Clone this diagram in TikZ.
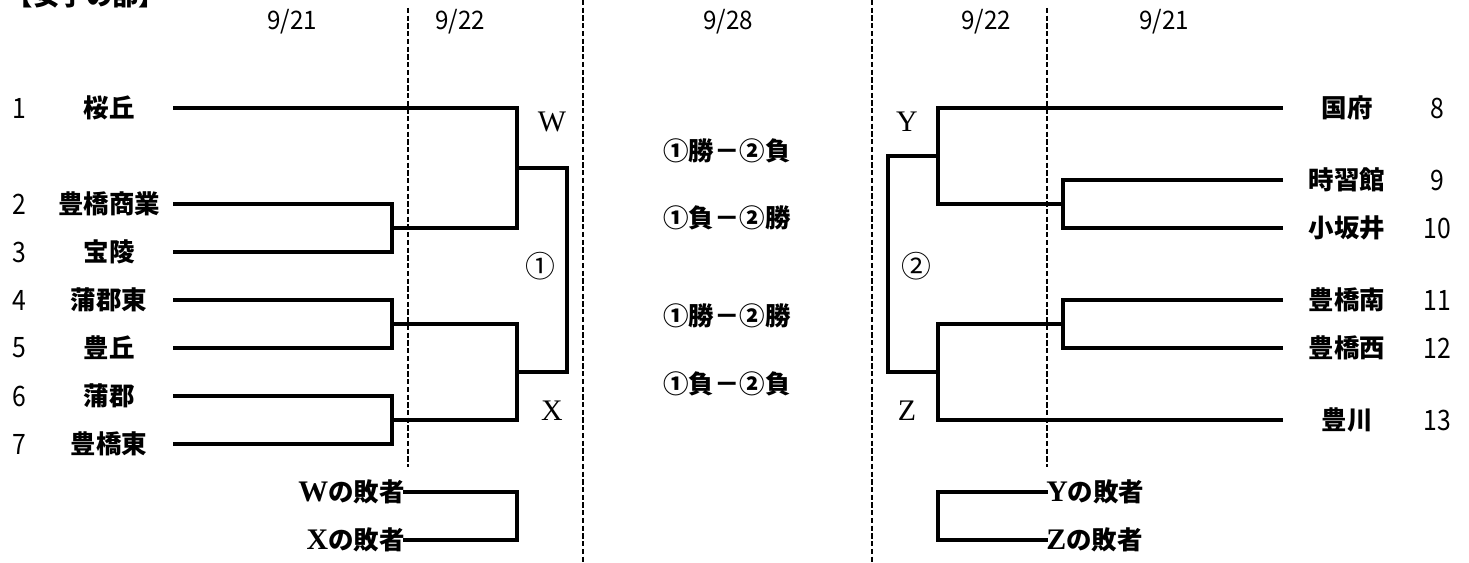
\documentclass[tikz,border=0pt]{standalone}
\usepackage{fontspec}
\newfontfamily\jp{Noto Sans CJK JP}
\newfontfamily\numf{Noto Sans CJK JP}[FakeStretch=0.88]
\newfontfamily\datef{Noto Sans CJK JP}[FakeStretch=0.95]
\newfontfamily\serifl{Liberation Serif}
\begin{document}
\begin{tikzpicture}[x=0.02cm,y=-0.02cm,
  team/.style={font=\jp\bfseries\fontsize{14.5}{14.5}\selectfont, inner sep=0pt},
  seed/.style={font=\numf\fontsize{16}{16}\selectfont, inner sep=0pt},
  datel/.style={font=\datef\fontsize{14.5}{14.5}\selectfont, inner sep=0pt},
  letter/.style={font=\serifl\fontsize{17}{17}\selectfont, inner sep=0pt},
  circ/.style={font=\jp\fontsize{17}{17}\selectfont, inner sep=0pt},
  combo/.style={font=\jp\bfseries\fontsize{14.5}{14.5}\selectfont, inner sep=0pt},
  loser/.style={font=\jp\bfseries\fontsize{14.5}{14.5}\selectfont, inner sep=0pt},
  br/.style={line width=1.9pt, line cap=rect},
  sep/.style={line width=1.4pt, dash pattern=on 3pt off 1.4pt}]
\useasboundingbox (0,0) rectangle (1469,563);
\clip (0,0) rectangle (1469,563);
\fill[white] (0,0) rectangle (1469,563);

% title (cut off at top, as in the reference)
\node[team, font=\jp\bfseries\fontsize{15}{15}\selectfont] (title) at (86,-4) {【女子の部】};

% date headers
\node[datel] (d1) at (292,22) {9/21};
\node[datel] (d2) at (460,22) {9/22};
\node[datel] (d3) at (728,22) {9/28};
\node[datel] (d4) at (986,22) {9/22};
\node[datel] (d5) at (1164,22) {9/21};

% separators
\coordinate (s1a) at (408,8);   \coordinate (s1b) at (408,467);
\coordinate (s2a) at (583,0);   \coordinate (s2b) at (583,563);
\coordinate (s3a) at (872,0);   \coordinate (s3b) at (872,563);
\coordinate (s4a) at (1047,8);  \coordinate (s4b) at (1047,467);
\draw[sep] (s1a) -- (s1b);
\draw[sep] (s2a) -- (s2b);
\draw[sep] (s3a) -- (s3b);
\draw[sep] (s4a) -- (s4b);

% left seeds and teams
\foreach \n/\t/\y in {1/桜丘/108, 2/豊橋商業/204, 3/宝陵/252, 4/蒲郡東/300, 5/豊丘/348, 6/蒲郡/396, 7/豊橋東/444}{
  \node[seed] (n\n) at (19,\y) {\n};
  \node[team] (t\n) at (109,\y) {\t};
  \coordinate (e\n) at (175,\y);
}
% right seeds and teams
\foreach \n/\t/\y in {8/国府/108, 9/時習館/180, 10/小坂井/228, 11/豊橋南/300, 12/豊橋西/348, 13/豊川/420}{
  \node[seed] (n\n) at (1437,\y) {\n};
  \node[team] (t\n) at (1347,\y) {\t};
  \coordinate (e\n) at (1281,\y);
}

% left bracket junctions
\coordinate (a23) at (392,228);
\coordinate (a45) at (392,324);
\coordinate (a67) at (392,420);
\coordinate (w) at (517,168);
\coordinate (x) at (517,372);

\draw[br] (e1) -- (517,108) -- (517,228) -- (a23);
\draw[br] (e2) -- (392,204) -- (392,252) -- (e3);
\draw[br] (e4) -- (392,300) -- (392,348) -- (e5);
\draw[br] (e6) -- (392,396) -- (392,444) -- (e7);
\draw[br] (a45) -- (517,324) -- (517,420) -- (a67);
\draw[br] (w) -- (567,168) -- (567,372) -- (x);

% right bracket junctions
\coordinate (b910) at (1063,204);
\coordinate (b1112) at (1063,324);
\coordinate (y) at (938,156);
\coordinate (z) at (938,372);

\draw[br] (e8) -- (938,108) -- (938,204) -- (b910);
\draw[br] (e9) -- (1063,180) -- (1063,228) -- (e10);
\draw[br] (e11) -- (1063,300) -- (1063,348) -- (e12);
\draw[br] (b1112) -- (938,324) -- (938,420) -- (e13);
\draw[br] (y) -- (888,156) -- (888,372) -- (z);

% letters
\node[letter] (lw) at (552,122) {W};
\node[letter] (lx) at (552,411) {X};
\node[letter] (ly) at (907,122) {Y};
\node[letter] (lz) at (907,411) {Z};
\node[circ] (c1) at (540,266) {①};
\node[circ] (c2) at (916,266) {②};

% final day combinations
\node[combo] (f1) at (727,151) {①勝－②負};
\node[combo] (f2) at (727,218) {①負－②勝};
\node[combo] (f3) at (727,316) {①勝－②勝};
\node[combo] (f4) at (727,384) {①負－②負};

% losers brackets
\node[loser, anchor=east] (wl) at (405,492) {{\serifl\bfseries\fontsize{17}{17}\selectfont W}の敗者};
\node[loser, anchor=east] (xl) at (405,540) {{\serifl\bfseries\fontsize{17}{17}\selectfont X}の敗者};
\draw[br] (wl.east |- 408,492) -- (517,492) -- (517,540) -- (xl.east |- 408,540);

\node[loser, anchor=west] (yl) at (1046,492) {{\serifl\bfseries\fontsize{17}{17}\selectfont Y}の敗者};
\node[loser, anchor=west] (zl) at (1046,540) {{\serifl\bfseries\fontsize{17}{17}\selectfont Z}の敗者};
\draw[br] (yl.west) -- (938,492) -- (938,540) -- (zl.west);
\end{tikzpicture}
\end{document}
